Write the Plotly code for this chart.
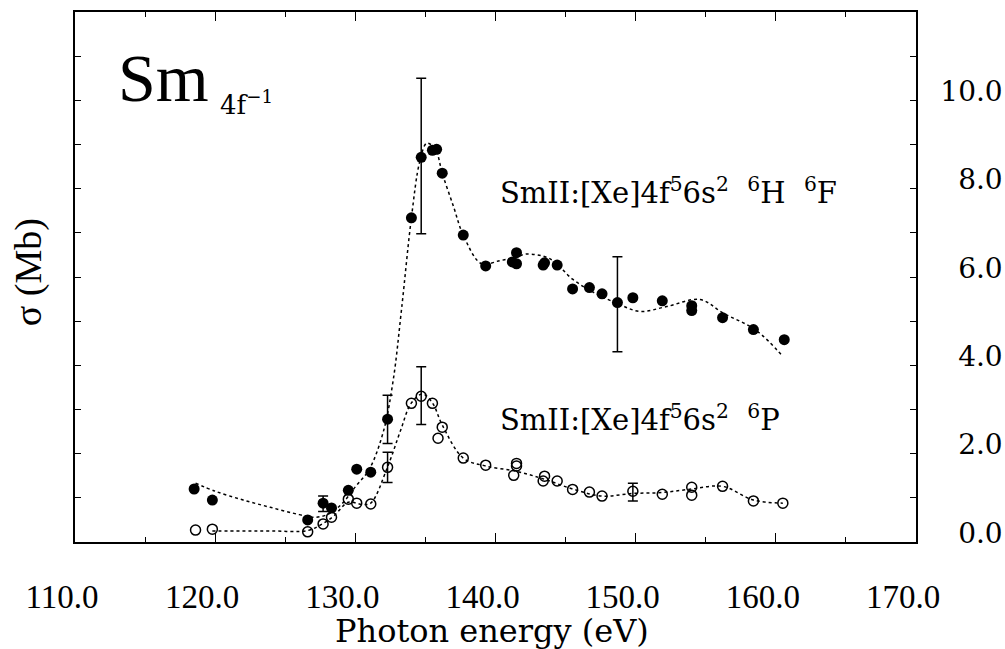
import plotly.graph_objects as go

# ---- data ----
# 6H 6F (filled circles)
filled_E = [118.5, 119.8, 126.6, 127.7, 128.3, 129.5, 130.1, 131.1, 132.3, 134.0, 134.7, 135.5, 135.8,
            136.2, 137.7, 139.3, 141.2, 141.5, 141.5, 143.4, 143.5, 144.4, 145.5, 146.7, 147.6, 148.7,
            149.8, 151.9, 154.0, 154.0, 156.2, 158.4, 160.6]
filled_v = [1.20, 0.95, 0.50, 0.88, 0.77, 1.17, 1.65, 1.58, 2.78, 7.34, 8.71, 8.87, 8.89,
            8.35, 6.95, 6.25, 6.34, 6.30, 6.55, 6.27, 6.32, 6.27, 5.73, 5.76, 5.62, 5.42,
            5.53, 5.46, 5.35, 5.24, 5.08, 4.81, 4.58]
filled_fit_E = [118.6, 120, 122, 124, 126, 127, 128, 129, 130, 131, 132, 132.7, 133.3, 134.0, 134.6,
                135.1, 135.7, 136.2, 137.0, 137.7, 139.0, 140.3, 141.5, 142.2, 143.9, 145.5, 147.0,
                148.7, 150.3, 152.2, 154.6, 156.2, 158.6, 160.5]
filled_fit_v = [1.33, 1.15, 0.95, 0.78, 0.62, 0.56, 0.62, 0.85, 1.25, 1.65, 2.5, 3.66, 5.28, 7.34, 8.62,
                9.03, 8.9, 8.35, 7.6, 6.95, 6.3, 6.37, 6.45, 6.52, 6.41, 5.95, 5.65,
                5.4, 5.22, 5.33, 5.49, 5.19, 4.79, 4.2]
filled_err_E = [127.7, 132.3, 134.7, 148.7]
filled_err_v = [0.88, 2.78, 8.71, 5.42]
filled_err_up = [0.16, 0.54, 1.79, 1.04]
filled_err_dn = [0.19, 0.55, 1.73, 1.11]

# 6P (open circles)
open_E = [118.6, 119.8, 126.6, 127.7, 128.3, 129.5, 130.1, 131.1, 132.3, 134.0, 134.7, 135.5, 135.9,
          136.2, 137.7, 139.3, 141.3, 141.5, 141.5, 143.4, 143.5, 144.4, 145.5, 146.7, 147.6, 149.8,
          151.9, 154.0, 154.0, 156.2, 158.4, 160.5]
open_v = [0.27, 0.29, 0.23, 0.41, 0.56, 0.97, 0.88, 0.86, 1.69, 3.14, 3.30, 3.14, 2.35,
          2.60, 1.90, 1.74, 1.51, 1.78, 1.72, 1.38, 1.49, 1.38, 1.19, 1.13, 1.04, 1.15,
          1.08, 1.24, 1.06, 1.26, 0.93, 0.88]
open_fit_E = [119.8, 122, 124, 126.6, 127.7, 128.5, 129.5, 130.5, 131.1, 132.3, 133.2, 134.0, 134.8,
              135.5, 136.2, 137.7, 139.3, 141.5, 143.5, 145.5, 147.6, 149.8, 151.9, 154.0, 156.2,
              158.4, 160.5]
open_fit_v = [0.25, 0.25, 0.25, 0.26, 0.42, 0.6, 0.9, 0.85, 0.88, 1.7, 2.5, 3.15, 3.35,
              3.15, 2.65, 1.9, 1.72, 1.6, 1.42, 1.2, 1.04, 1.1, 1.12, 1.2, 1.26,
              0.95, 0.88]
open_err_E = [132.3, 134.7, 149.8]
open_err_v = [1.69, 3.30, 1.15]
open_err_up = [0.34, 0.67, 0.18]
open_err_dn = [0.34, 0.64, 0.22]

x_ticks = [110, 120, 130, 140, 150, 160, 170]
x_tick_labels = ["110.0", "120.0", "130.0", "140.0", "150.0", "160.0", "170.0"]
y_ticks = list(range(0, 13))
y_tick_labels = ["\u20070.0", "", "\u20072.0", "", "\u20074.0", "", "\u20076.0", "", "\u20078.0", "",
                 "10.0", "", ""]

fig = go.Figure()

dot_line = dict(color="black", width=1.5, dash="dot")
fig.add_trace(go.Scatter(x=filled_fit_E, y=filled_fit_v, mode="lines", line=dot_line,
                         line_shape="spline", showlegend=False))
fig.add_trace(go.Scatter(x=open_fit_E, y=open_fit_v, mode="lines", line=dot_line,
                         line_shape="spline", showlegend=False))

errstyle = dict(type="data", symmetric=False, color="black", thickness=1.5, width=5)
fig.add_trace(go.Scatter(x=filled_err_E, y=filled_err_v, mode="markers",
                         marker=dict(color="rgba(0,0,0,0)", size=2),
                         error_y=dict(array=filled_err_up, arrayminus=filled_err_dn, **errstyle),
                         showlegend=False))
fig.add_trace(go.Scatter(x=open_err_E, y=open_err_v, mode="markers",
                         marker=dict(color="rgba(0,0,0,0)", size=2),
                         error_y=dict(array=open_err_up, arrayminus=open_err_dn, **errstyle),
                         showlegend=False))

fig.add_trace(go.Scatter(x=filled_E, y=filled_v, mode="markers",
                         marker=dict(symbol="circle", size=11, color="black",
                                     line=dict(color="black", width=0)),
                         showlegend=False))
fig.add_trace(go.Scatter(x=open_E, y=open_v, mode="markers",
                         marker=dict(symbol="circle-open", size=10, color="black",
                                     line=dict(color="black", width=1.5)),
                         showlegend=False))

serif = "Liberation Serif"
wide = "DejaVu Serif"

fig.update_layout(
    width=1005, height=649,
    margin=dict(l=75, r=89, t=12, b=107),
    paper_bgcolor="white", plot_bgcolor="white",
    xaxis=dict(range=[110, 170], tickvals=x_ticks, ticktext=x_tick_labels,
               ticks="inside", ticklen=9, tickwidth=1.3, tickcolor="black",
               minor=dict(dtick=5, tick0=110, ticks="inside", ticklen=5, tickwidth=1.3,
                          tickcolor="black", showgrid=False),
               showline=True, linecolor="black", linewidth=1.5, mirror="ticks",
               showgrid=False, zeroline=False, automargin=False,
               tickfont=dict(family=serif, size=33, color="black"),
               ticklabelstandoff=25, ticklabelshift=-13),
    yaxis=dict(range=[0, 12], side="right", tickvals=y_ticks, ticktext=y_tick_labels,
               ticks="inside", ticklen=6, tickwidth=1.3, tickcolor="black",
               showline=True, linecolor="black", linewidth=1.5, mirror="ticks",
               showgrid=False, zeroline=False, automargin=False,
               tickfont=dict(family=wide, size=28, color="black"),
               ticklabelstandoff=17, ticklabelshift=-9),
    annotations=[
        dict(text="Photon energy (eV)", xref="paper", yref="paper", x=0.496, y=-0.167,
             xanchor="center", yanchor="middle", showarrow=False,
             font=dict(family=wide, size=32, color="black")),
        dict(text="σ (Mb)", xref="paper", yref="paper", x=-0.056, y=0.509, textangle=-90,
             xanchor="center", yanchor="middle", showarrow=False,
             font=dict(family=serif, size=38, color="black")),
        dict(text="Sm", xref="x", yref="y", x=112.9, y=10.5, xanchor="left", yanchor="middle",
             showarrow=False, font=dict(family=serif, size=68, color="black")),
        dict(text="4f<sup>−1</sup>", xref="x", yref="y", x=120.2, y=9.95, xanchor="left",
             yanchor="middle", showarrow=False, font=dict(family=wide, size=26, color="black")),
        dict(text="SmII:[Xe]4f<sup>5</sup>6s<sup>2</sup>  <sup>6</sup>H  <sup>6</sup>F",
             xref="x", yref="y", x=140.2, y=7.95, xanchor="left", yanchor="middle",
             showarrow=False, font=dict(family=wide, size=29, color="black")),
        dict(text="SmII:[Xe]4f<sup>5</sup>6s<sup>2</sup>  <sup>6</sup>P",
             xref="x", yref="y", x=140.2, y=2.8, xanchor="left", yanchor="middle",
             showarrow=False, font=dict(family=wide, size=29, color="black")),
    ],
)

fig.write_html("out.html")
